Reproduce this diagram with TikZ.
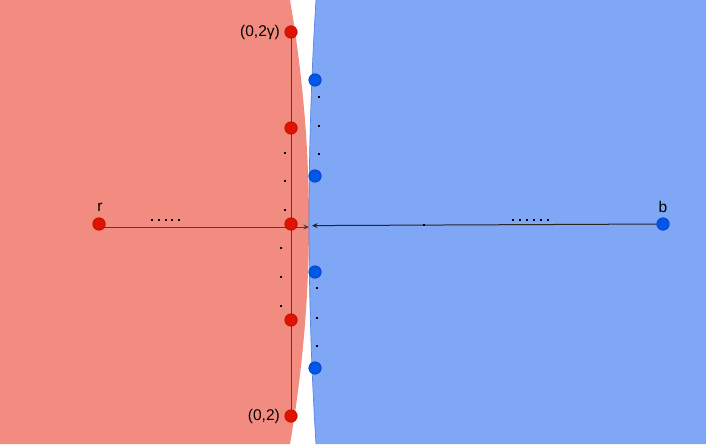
\documentclass[tikz,border=0pt]{standalone}
\usepackage{fontspec}
\setmainfont{Liberation Sans}
\usetikzlibrary{arrows.meta}
\definecolor{redreg}{RGB}{242,139,128}
\definecolor{bluereg}{RGB}{127,167,246}
\definecolor{blueedge}{RGB}{90,130,230}
\definecolor{reddot}{RGB}{224,18,0}
\definecolor{reddotb}{RGB}{180,10,0}
\definecolor{bluedot}{RGB}{0,86,232}
\definecolor{bluedotb}{RGB}{0,60,190}
\definecolor{linec}{RGB}{85,60,60}
\pgfdeclarelayer{regions}
\pgfdeclarelayer{lines}
\pgfsetlayers{regions,lines,main}
\tikzset{
  rdot/.style={circle, fill=reddot, draw=reddotb, line width=0.6pt, minimum size=12.5pt, inner sep=0pt},
  bdot/.style={circle, fill=bluedot, draw=bluedotb, line width=0.6pt, minimum size=12.5pt, inner sep=0pt},
  sq/.style={rectangle, fill=black, minimum size=2pt, inner sep=0pt},
  lbl/.style={font=\fontsize{15.5}{18}\selectfont, inner sep=0pt},
  conn/.style={draw=linec, line width=1pt},
  arr/.style={-{Stealth[length=5.5pt,width=5pt]}, line width=1pt},
}
\begin{document}
\begin{tikzpicture}[x=1pt,y=-1pt]
\useasboundingbox (0,0) rectangle (706,444);
% dots
\node[rdot] (t)  at (291,32) {};
\node[rdot] (r2) at (291,128) {};
\node[rdot] (r3) at (291,224) {};
\node[rdot] (r4) at (291,320) {};
\node[rdot] (bo) at (291,416) {};
\node[rdot] (r)  at (99,224) {};
\node[bdot] (b1) at (315,80) {};
\node[bdot] (b2) at (315,176) {};
\node[bdot] (b3) at (315,272) {};
\node[bdot] (b4) at (315,368) {};
\node[bdot] (b)  at (663,224) {};
% labels
\node[lbl, anchor=east] (lt) at (280,32) {(0,2γ)};
\node[lbl, anchor=east] (lb) at (280,416) {(0,2)};
\node[lbl] (lr) at (100,207) {r};
\node[lbl] (lbb) at (663,207) {b};
% small dots
\foreach \x/\y [count=\i] in {285/153,285/181,285/210,281/248,281/277,281/306,319/97,319/126,319/154,317/288,317/318,317/346,424/224.6}
  \node[sq] (d\i) at (\x,\y) {};
\foreach \x [count=\i] in {152,159,166,172,179}
  \node[sq] (rd\i) at (\x,219.5) {};
\foreach \x [count=\i] in {513,520,527,534,541,548}
  \node[sq] (bd\i) at (\x,219.5) {};
% arrow endpoints
\coordinate (ra) at (309,227);
\coordinate (ba) at (312,225.6);
\begin{pgfonlayer}{regions}
  \fill[redreg] (0,0) -- (290,0) .. controls (315.3,148) and (315.3,296) .. (290,444) -- (0,444) -- cycle;
  \fill[bluereg] (706,0) -- (316,0) .. controls (306.7,148) and (306.7,296) .. (316,444) -- (706,444) -- cycle;
  \draw[blueedge, line width=0.7pt] (316,0) .. controls (306.7,148) and (306.7,296) .. (316,444);
\end{pgfonlayer}
\begin{pgfonlayer}{lines}
  \draw[conn] (t.center) -- (bo.center);
  \draw[conn, arr] ([yshift=-3pt]r.center) -- (ra);
  \draw[draw=black!85, arr] (b.center) -- (ba);
  \draw[cyan!70!blue!60, line width=0.8pt] (307.5,221.5) -- (310.5,224.5) (307.5,224.5) -- (310.5,221.5);
\end{pgfonlayer}
\end{tikzpicture}
\end{document}
